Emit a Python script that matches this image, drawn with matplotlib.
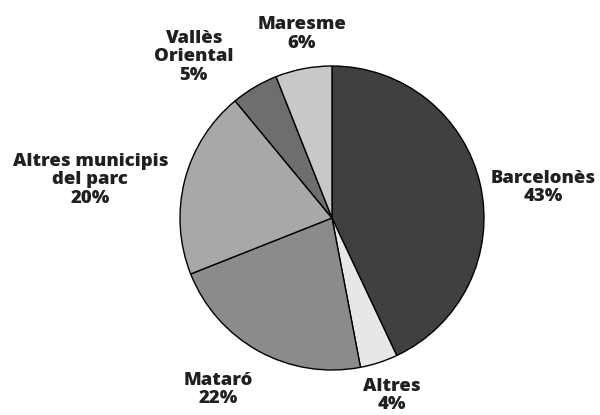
import matplotlib.pyplot as plt

labels = ['Barcelonès', 'Altres', 'Mataró', 'Altres municipis\ndel parc', 'Vallès\nOriental', 'Maresme']
shares = [43, 4, 22, 20, 5, 6]
colors = ['#404040', '#e6e7e8', '#8a8b8d', '#a7a8aa', '#6d6e70', '#c7c8ca']

# label centres, in units of the pie radius
label_pos = [(1.39, 0.20), (0.395, -1.17), (-0.75, -1.13),
             (-1.59, 0.25), (-0.91, 1.06), (-0.20, 1.21)]

fig = plt.figure(figsize=(6, 4.15), dpi=100)
ax = fig.add_axes([0, 0, 1, 1])
ax.pie(shares, colors=colors, startangle=90, counterclock=False,
       wedgeprops=dict(edgecolor='black', linewidth=1.0))

for lab, val, (x, y) in zip(labels, shares, label_pos):
    ax.text(x, y, '%s\n%d%%' % (lab, val), ha='center', va='center',
            fontsize=13.3, fontweight='heavy', family='Open Sans',
            color='#231f20', linespacing=1.1)

ax.set_xlim(-332 / 152, 268 / 152)
ax.set_ylim(-197 / 152, 218 / 152)
ax.set_aspect('equal')
ax.axis('off')

plt.savefig('out.png', dpi=100)
